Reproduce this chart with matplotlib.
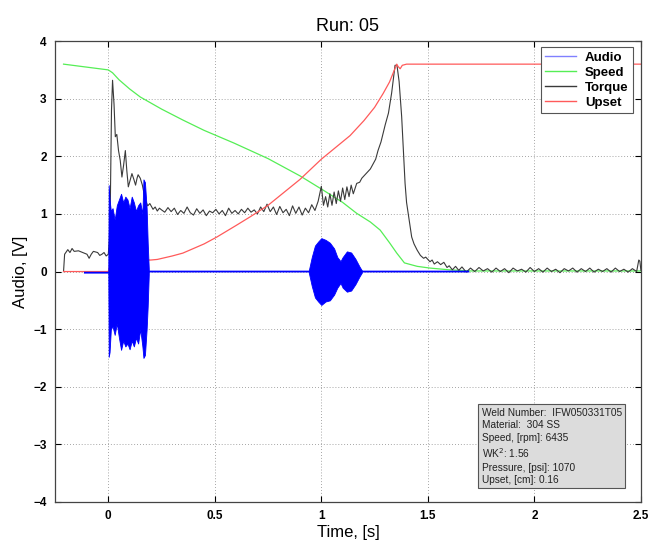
import matplotlib
matplotlib.use("Agg")
import matplotlib.pyplot as plt
import numpy as np

plt.rcParams['font.family'] = ['Liberation Sans', 'DejaVu Sans']

# ---------------- data ----------------
speed_t = [-0.21, 0.0, 0.02, 0.05, 0.10, 0.15, 0.25, 0.35, 0.45, 0.59, 0.75, 0.90,
           1.01, 1.10, 1.166, 1.23, 1.276, 1.32, 1.354, 1.39, 1.45, 1.51, 1.60, 1.70, 2.5]
speed_v = [3.60, 3.50, 3.45, 3.33, 3.17, 3.03, 2.82, 2.63, 2.45, 2.23, 1.96, 1.66,
           1.41, 1.20, 1.01, 0.86, 0.72, 0.50, 0.32, 0.15, 0.09, 0.06, 0.03, 0.01, 0.01]

upset_t = [-0.21, 0.0, 0.01, 0.02, 0.03, 0.05, 0.10, 0.15, 0.20, 0.23, 0.30, 0.35, 0.45,
           0.51, 0.60, 0.666, 0.75, 0.82, 0.90, 1.0, 1.135, 1.20, 1.25, 1.29, 1.32,
           1.354, 1.36, 1.37, 1.38, 1.40, 2.5]
upset_v = [0.0, 0.0, 0.15, 0.27, 0.20, 0.22, 0.20, 0.20, 0.20, 0.21, 0.27, 0.32, 0.48,
           0.60, 0.80, 0.95, 1.15, 1.36, 1.60, 1.95, 2.36, 2.62, 2.85, 3.09, 3.29,
           3.60, 3.56, 3.52, 3.58, 3.60, 3.60]

torque_t = [-0.21, -0.205, -0.19, -0.18, -0.17, -0.16, -0.14, -0.12, -0.10, -0.09, -0.08,
            -0.07, -0.05, -0.04, -0.03, -0.02, -0.01, 0.0, 0.005, 0.01, 0.015, 0.02,
            0.027, 0.033, 0.04, 0.048, 0.056, 0.064, 0.072, 0.08, 0.087, 0.094, 0.10,
            0.111, 0.12, 0.128, 0.135, 0.14, 0.15, 0.16, 0.174, 0.185, 0.195, 0.21, 0.22,
            0.23, 0.24, 0.25,
            0.265, 0.28, 0.295, 0.31, 0.325, 0.34, 0.355, 0.37, 0.385, 0.40, 0.415, 0.43,
            0.445, 0.46, 0.475, 0.49, 0.505, 0.52, 0.535, 0.55, 0.565, 0.58, 0.595, 0.61,
            0.625, 0.64, 0.655, 0.67, 0.685, 0.70, 0.715, 0.73, 0.745, 0.76, 0.775, 0.79,
            0.805, 0.82, 0.835, 0.85, 0.865, 0.88, 0.895, 0.91, 0.925, 0.94, 0.955, 0.97,
            0.985, 1.00, 1.01, 1.02, 1.03,
            1.04, 1.05, 1.06, 1.07, 1.08, 1.09, 1.10, 1.11, 1.12, 1.13, 1.14, 1.15, 1.166,
            1.18, 1.19, 1.21, 1.23, 1.245, 1.255, 1.266, 1.28, 1.29, 1.30, 1.315, 1.33,
            1.34, 1.346, 1.355, 1.365, 1.377, 1.385, 1.393, 1.40, 1.41, 1.424, 1.435,
            1.45, 1.465, 1.48, 1.49, 1.51, 1.52, 1.53, 1.545, 1.56, 1.575, 1.59, 1.60,
            1.615, 1.63, 1.645, 1.66,
            1.68, 1.70, 1.72, 1.74, 1.76, 1.78, 1.80, 1.82, 1.84, 1.86, 1.88, 1.90, 1.92,
            1.94, 1.96, 1.98, 2.00, 2.02, 2.04, 2.06, 2.08, 2.10, 2.12, 2.14, 2.16, 2.18,
            2.20, 2.22, 2.24, 2.26, 2.28, 2.30, 2.32, 2.34, 2.36, 2.38, 2.40, 2.42, 2.44,
            2.46, 2.48, 2.49, 2.495, 2.5]
torque_v = [0.0, 0.30, 0.38, 0.33, 0.40, 0.35, 0.36, 0.33, 0.30, 0.23, 0.30,
            0.35, 0.33, 0.28, 0.30, 0.33, 0.27, 0.30, 0.55, 1.30, 2.80, 3.32,
            2.90, 2.34, 2.38, 2.10, 1.93, 1.64, 1.85, 2.10, 1.75, 1.47, 1.55,
            1.70, 1.60, 1.50, 1.62, 1.68, 1.62, 1.50, 1.24, 1.14, 1.18, 1.08, 1.12,
            1.05, 1.10, 1.07,
            1.03, 1.11, 1.04, 1.10, 0.99, 1.06, 1.01, 1.12, 1.02, 0.98, 1.09, 1.01,
            1.07, 0.97, 1.05, 1.02, 1.08, 1.00, 1.06, 0.97, 1.10, 1.01, 1.06, 1.00,
            1.08, 1.02, 1.10, 1.03, 1.07, 1.00, 1.12, 1.04, 1.17, 1.04, 1.12, 0.99,
            1.13, 1.02, 1.08, 0.97, 1.14, 1.01, 1.12, 0.98, 1.10, 1.02, 1.16, 1.06,
            1.22, 1.48, 1.15, 1.30, 1.12,
            1.35, 1.15, 1.38, 1.18, 1.40, 1.22, 1.45, 1.25, 1.47, 1.30, 1.50, 1.35, 1.53,
            1.55, 1.62, 1.70, 1.78, 1.88, 1.95, 2.10, 2.25, 2.40, 2.55, 2.75, 3.10,
            3.40, 3.58, 3.58, 3.30, 2.69, 2.10, 1.53, 1.20, 0.95, 0.60, 0.48,
            0.37, 0.28, 0.23, 0.25, 0.17, 0.20, 0.13, 0.17, 0.12, 0.16, 0.07, 0.10,
            0.03, 0.09, 0.02, 0.08,
            -0.01, 0.06, 0.00, 0.07, 0.01, 0.05, -0.01, 0.06, 0.00, 0.05, -0.02, 0.06, 0.01,
            0.04, -0.01, 0.07, 0.00, 0.05, -0.01, 0.06, 0.00, 0.04, -0.02, 0.05, 0.01, 0.06,
            -0.01, 0.05, 0.00, 0.06, -0.01, 0.04, 0.00, 0.05, -0.01, 0.06, 0.00, 0.04, -0.01,
            0.05, 0.00, 0.20, 0.18, 0.02]

audio_base_t = [-0.11, 0.0, 0.19, 0.94, 1.19, 1.69]
audio_base_v = [-0.02, -0.02, 0.0, 0.0, 0.0, 0.0]

burst1_t = [0.000, 0.002, 0.006, 0.012, 0.02, 0.03, 0.04, 0.05, 0.06, 0.07, 0.08, 0.09,
            0.10, 0.11, 0.12, 0.13, 0.14, 0.15, 0.16, 0.165, 0.172, 0.18, 0.185, 0.19]
burst1_hi = [0.0, 1.50, 1.25, 1.05, 1.10, 0.90, 1.15, 1.25, 1.35, 1.20, 1.30, 1.25,
             1.10, 1.30, 1.20, 1.05, 1.15, 1.20, 1.00, 1.60, 1.55, 1.10, 0.50, 0.05]
burst1_lo = [0.0, -1.48, -1.40, -1.00, -0.95, -1.10, -0.90, -1.15, -1.36, -1.20, -1.30, -1.25,
             -1.35, -1.20, -1.30, -1.15, -1.25, -1.00, -1.30, -1.50, -1.45, -1.00, -0.60, -0.05]

burst2_t = [0.94, 0.955, 0.97, 0.985, 1.00, 1.02, 1.04, 1.06, 1.075, 1.09, 1.10, 1.12,
            1.14, 1.16, 1.18, 1.19]
burst2_hi = [0.0, 0.25, 0.45, 0.52, 0.58, 0.55, 0.50, 0.40, 0.25, 0.18, 0.25, 0.35,
             0.33, 0.22, 0.08, 0.02]
burst2_lo = [0.0, -0.25, -0.45, -0.52, -0.58, -0.52, -0.50, -0.40, -0.28, -0.20, -0.28, -0.35,
             -0.33, -0.22, -0.08, -0.02]

info_lines = ["Weld Number:  IFW050331T05", "Material:  304 SS", "Speed, [rpm]: 6435",
              "WK$^2$: 1.56", "Pressure, [psi]: 1070", "Upset, [cm]: 0.16"]

xticks = [0, 0.5, 1, 1.5, 2, 2.5]
xticklabels = ["0", "0.5", "1", "1.5", "2", "2.5"]
yticks = [-4, -3, -2, -1, 0, 1, 2, 3, 4]

# ---------------- figure ----------------
fig = plt.figure(figsize=(6.52, 5.48), dpi=100)
ax = fig.add_axes([0.0844, 0.084, 0.8986, 0.841])

blue = '#0000ff'
green = '#55ee55'
grey = '#3a3a3a'
red = '#ff5a5a'

ax.plot(audio_base_t, audio_base_v, color=blue, lw=1.3, label='Audio', zorder=3)
ax.fill_between(burst1_t, burst1_lo, burst1_hi, color=blue, lw=0.6, zorder=3)
ax.fill_between(burst2_t, burst2_lo, burst2_hi, color=blue, lw=0.6, zorder=3)
ax.plot(speed_t, speed_v, color=green, lw=0.9, label='Speed', zorder=2)
ax.plot(torque_t, torque_v, color=grey, lw=0.8, label='Torque', zorder=2)
ax.plot(upset_t, upset_v, color=red, lw=0.9, label='Upset', zorder=2)

ax.set_xlim(-0.25, 2.5)
ax.set_ylim(-4, 4)
ax.set_xticks(xticks)
ax.set_xticklabels(xticklabels)
ax.set_yticks(yticks)
ax.tick_params(direction='in', top=True, right=True, length=4, width=0.8,
               labelsize=8.5, pad=6)
for lab in ax.get_xticklabels() + ax.get_yticklabels():
    lab.set_fontweight('bold')
ax.grid(True, linestyle=(0, (1, 2.5)), color='#888888', lw=0.6)
for s in ax.spines.values():
    s.set_color('#444444')
    s.set_linewidth(0.9)

ax.set_title('Run: 05', fontsize=13, pad=7)
ax.set_xlabel('Time, [s]', fontsize=12, labelpad=2)
ax.set_ylabel('Audio, [V]', fontsize=12, labelpad=4)

leg_handles = [plt.Line2D([], [], color='#8080ff', lw=1),
               plt.Line2D([], [], color=green, lw=1),
               plt.Line2D([], [], color=grey, lw=1),
               plt.Line2D([], [], color=red, lw=1)]
leg = ax.legend(leg_handles, ['Audio', 'Speed', 'Torque', 'Upset'], loc='upper right',
                bbox_to_anchor=(0.987, 0.987), frameon=True, fancybox=False,
                prop={'size': 9.5, 'weight': 'bold'},
                edgecolor='#555555', framealpha=1, borderpad=0.35, labelspacing=0.2,
                handlelength=2.3, handletextpad=0.7, borderaxespad=0)
leg.get_frame().set_linewidth(0.8)

ax.text(0.728, 0.037, "\n".join(info_lines), transform=ax.transAxes, fontsize=7.3,
        va='bottom', ha='left', linespacing=1.3, color='#222222',
        bbox=dict(boxstyle='square,pad=0.35', facecolor='#dcdcdc', edgecolor='#555555', lw=0.8),
        zorder=5)

fig.savefig('out.png', dpi=100)
